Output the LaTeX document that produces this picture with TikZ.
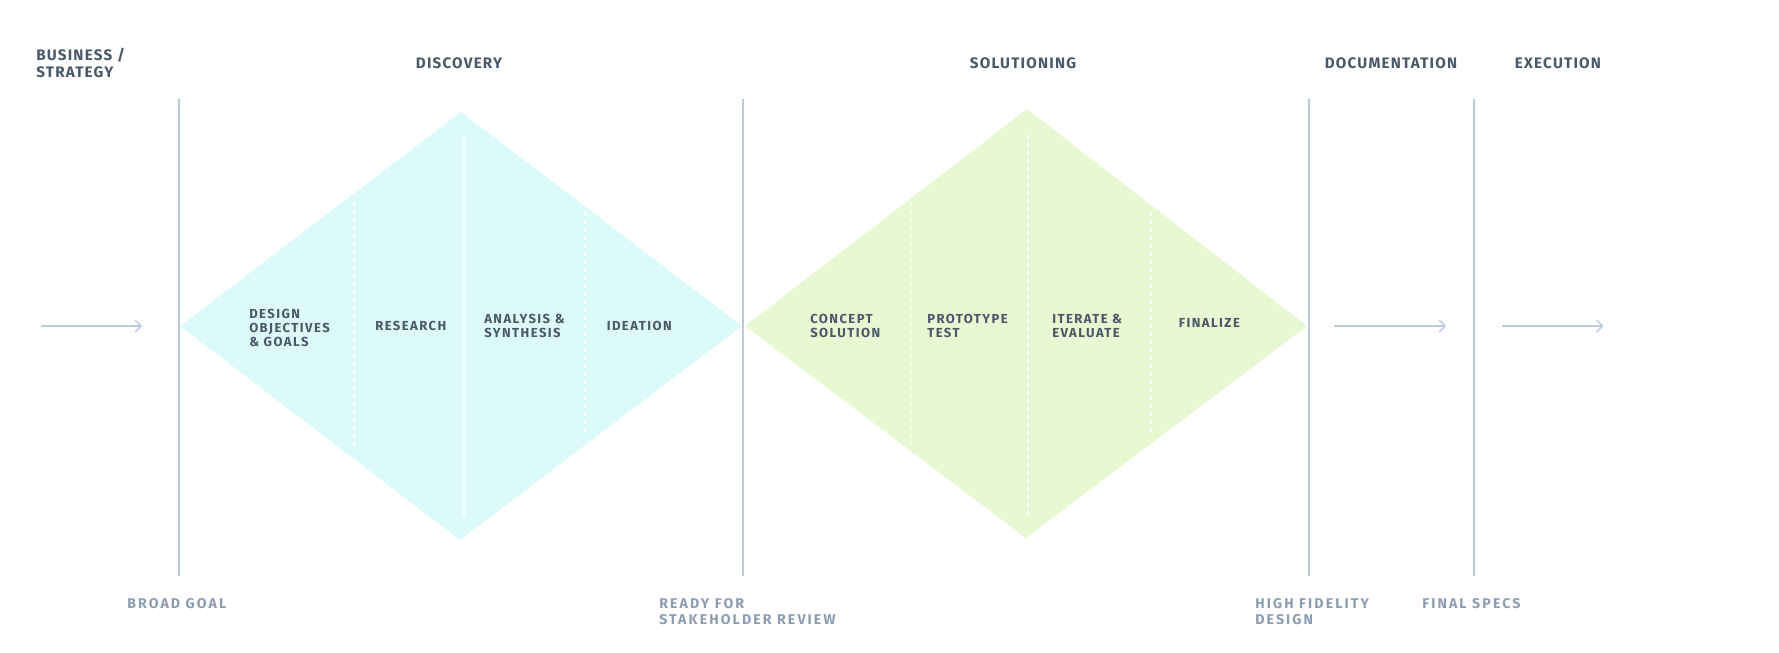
\documentclass[tikz,border=0pt]{standalone}
\usepackage{fontspec}
\setmainfont{Fira Sans}
\newfontfamily\lblfont[LetterSpace=8]{Fira Sans}
\newfontfamily\stagefont[LetterSpace=11]{Fira Sans}
\newfontfamily\notefont[LetterSpace=15]{Fira Sans}
\usetikzlibrary{arrows.meta}
\definecolor{inkdark}{HTML}{4A5869}
\definecolor{inklight}{HTML}{8C9DB2}
\definecolor{rulecol}{HTML}{BACBDF}
\definecolor{discfill}{HTML}{DDFAFB}
\definecolor{solfill}{HTML}{E8F8D2}
\tikzset{
  phase/.style={font=\lblfont\bfseries\fontsize{11.4}{12.8}\selectfont, text=inkdark, inner sep=0pt, align=center},
  stage/.style={font=\stagefont\bfseries\fontsize{9.8}{10.5}\selectfont, text=inkdark, inner sep=0pt, align=left, anchor=west},
  milestone/.style={font=\notefont\bfseries\fontsize{10.6}{12.2}\selectfont, text=inklight, inner sep=0pt, align=left, anchor=north west},
  divider/.style={rulecol, line width=1.1pt},
  flow/.style={rulecol, line width=1pt, -{Straight Barb[length=4.5pt,width=9pt]}},
  split/.style={white, line width=0.8pt, dash pattern=on 3pt off 3pt}
}
\begin{document}
\begin{tikzpicture}[x=0.75pt,y=-0.75pt]
\useasboundingbox (0,0) rectangle (1779,653);
% diamonds
\fill[discfill] (180,326) -- (461,112) -- (742,326) -- (460,540) -- cycle;
\fill[solfill] (745,326) -- (1027,109) -- (1307,326) -- (1026,538) -- cycle;
\draw[split] (354,202) -- (354,449);
\draw[split] (464,135) -- (464,516);
\draw[split] (585,212) -- (585,434);
\draw[split] (911.5,202) -- (911.5,449);
\draw[split] (1028,135) -- (1028,516);
\draw[split] (1151,212) -- (1151,434);
% dividers
\foreach \x/\n in {179/a,743/b,1309/c,1474/d}{
  \coordinate (top\n) at (\x,99);
  \coordinate (bot\n) at (\x,576);
  \draw[divider] (top\n) -- (bot\n);
}
% arrows
\coordinate (inA) at (40.5,326);
\coordinate (outA) at (142,326);
\coordinate (inB) at (1334,326);
\coordinate (outB) at (1446,326);
\coordinate (inC) at (1502,326);
\coordinate (outC) at (1603.5,326);
\draw[flow] (inA) -- (outA);
\draw[flow] (inB) -- (outB);
\draw[flow] (inC) -- (outC);
% phases
\node (business) at (36,63)[phase, anchor=west, align=left] {BUSINESS /\\STRATEGY};
\node (discovery) at (459,63)[phase] {DISCOVERY};
\node (solutioning) at (1023,63)[phase] {SOLUTIONING};
\node (documentation) at (1391,63)[phase] {DOCUMENTATION};
\node (execution) at (1558,63)[phase] {EXECUTION};
% stages
\node (goals) at (249,327.5)[stage] {DESIGN\\OBJECTIVES\\\& GOALS};
\node (research) at (375,326)[stage] {RESEARCH};
\node (analysis) at (484,326)[stage] {ANALYSIS \&\\SYNTHESIS};
\node (ideation) at (606.5,326)[stage] {IDEATION};
\node (concept) at (810,326)[stage] {CONCEPT\\SOLUTION};
\node (prototype) at (927,326)[stage] {PROTOTYPE\\TEST};
\node (iterate) at (1052,326)[stage] {ITERATE \&\\EVALUATE};
\node (finalize) at (1178.5,323)[stage] {FINALIZE};
% milestones
\node (broad) at (127,598)[milestone] {BROAD GOAL};
\node (review) at (659,598)[milestone] {READY FOR\\STAKEHOLDER REVIEW};
\node (hifi) at (1255,598)[milestone] {HIGH FIDELITY\\DESIGN};
\node (specs) at (1422,598)[milestone] {FINAL SPECS};
\end{tikzpicture}
\end{document}
